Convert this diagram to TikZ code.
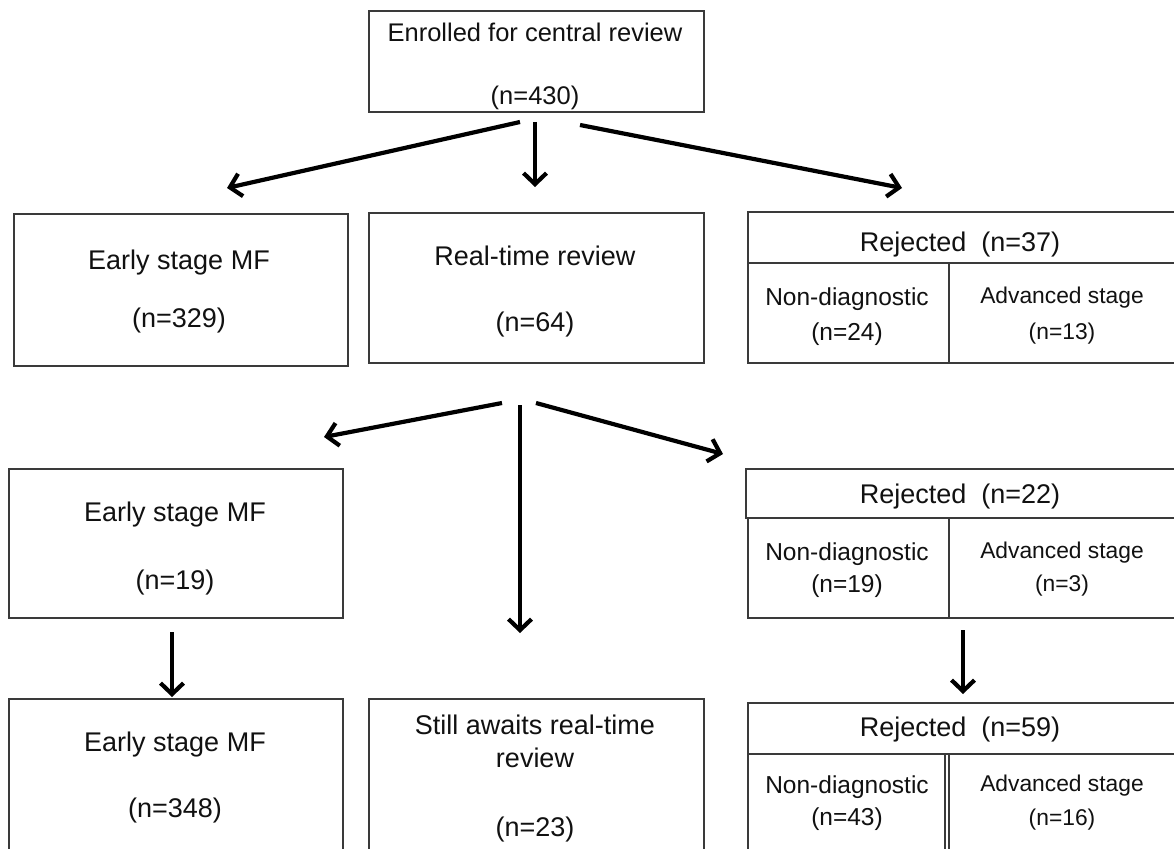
\documentclass[tikz,border=0pt]{standalone}
\usepackage{fontspec}
\setmainfont{Liberation Sans}
\usetikzlibrary{arrows.meta}
\definecolor{boxgray}{HTML}{3A3A3A}
\definecolor{txtblack}{HTML}{111111}
\begin{document}
\begin{tikzpicture}[x=1pt,y=-1pt,
  bx/.style={draw=boxgray,line width=1.6pt,inner sep=0pt,anchor=north west},
  txt/.style={inner sep=0pt,text height=19.3pt,text depth=0pt,anchor=center,text=txtblack,font=\fontsize{27}{31}\selectfont},
  txttop/.style={txt,text height=18.3pt,font=\fontsize{25.5}{30}\selectfont},
  txtsm/.style={txt,text height=17.6pt,font=\fontsize{24.5}{28}\selectfont},
  txtxs/.style={txt,text height=16.3pt,font=\fontsize{22.8}{26}\selectfont},
  arr/.style={line width=4.2pt,black,-{Straight Barb[length=11pt,width=23pt]}}
]
\fill[white] (0,0) rectangle (1174,848);
\useasboundingbox (0,0) rectangle (1174,848);

% top box
\node[bx,minimum width=335pt,minimum height=101pt] (enr) at (368,10) {};
\node[txttop] (enrA) at (535,32) {Enrolled for central review};
\node[txttop] (enrB) at (535,95) {(n=430)};

% row 2
\node[bx,minimum width=334pt,minimum height=152pt] (es1) at (13,213) {};
\node[txt] (es1A) at (179,260) {Early stage MF};
\node[txt] (es1B) at (179,318) {(n=329)};

\node[bx,minimum width=335pt,minimum height=150pt] (rtr) at (368,212) {};
\node[txt] (rtrA) at (535,256) {Real-time review};
\node[txt] (rtrB) at (535,322) {(n=64)};

\node[bx,minimum width=429pt,minimum height=51pt] (rj1h) at (747,211) {};
\node[bx,minimum width=201pt,minimum height=100pt] (rj1a) at (747,262) {};
\node[bx,minimum width=228pt,minimum height=100pt] (rj1b) at (948,262) {};
\node[txt] (rj1T) at (960,242) {Rejected\ \ (n=37)};
\node[txtsm] (rj1aA) at (847,297) {Non-diagnostic};
\node[txtsm] (rj1aB) at (847,332) {(n=24)};
\node[txtxs] (rj1bA) at (1062,295) {Advanced stage};
\node[txtxs] (rj1bB) at (1062,331) {(n=13)};

% row 3
\node[bx,minimum width=334pt,minimum height=149pt] (es2) at (8,468) {};
\node[txt] (es2A) at (175,512) {Early stage MF};
\node[txt] (es2B) at (175,580) {(n=19)};

\node[bx,minimum width=431pt,minimum height=49pt] (rj2h) at (745,468) {};
\node[bx,minimum width=201pt,minimum height=100pt] (rj2a) at (747,517) {};
\node[bx,minimum width=228pt,minimum height=100pt] (rj2b) at (948,517) {};
\node[txt] (rj2T) at (960,494) {Rejected\ \ (n=22)};
\node[txtsm] (rj2aA) at (847,552) {Non-diagnostic};
\node[txtsm] (rj2aB) at (847,584) {(n=19)};
\node[txtxs] (rj2bA) at (1062,550) {Advanced stage};
\node[txtxs] (rj2bB) at (1062,583) {(n=3)};

% row 4
\node[bx,minimum width=334pt,minimum height=170pt] (es3) at (8,698) {};
\node[txt] (es3A) at (175,742) {Early stage MF};
\node[txt] (es3B) at (175,808) {(n=348)};

\node[bx,minimum width=335pt,minimum height=170pt] (still) at (368,698) {};
\node[txt] (stA) at (535,725) {Still awaits real-time};
\node[txt] (stB) at (535,758) {review};
\node[txt] (stC) at (535,827) {(n=23)};

\node[bx,minimum width=429pt,minimum height=51pt] (rj3h) at (747,702) {};
\node[bx,minimum width=197pt,minimum height=120pt] (rj3a) at (747,753) {};
\node[bx,minimum width=228pt,minimum height=120pt] (rj3b) at (948,753) {};
\node[txt] (rj3T) at (960,727) {Rejected\ \ (n=59)};
\node[txtsm] (rj3aA) at (847,785) {Non-diagnostic};
\node[txtsm] (rj3aB) at (847,817) {(n=43)};
\node[txtxs] (rj3bA) at (1062,783) {Advanced stage};
\node[txtxs] (rj3bB) at (1062,817) {(n=16)};

% arrow end points
\coordinate (a1s) at (520,122); \coordinate (a1e) at (227,188);
\coordinate (a2s) at (535,122); \coordinate (a2e) at (535,187);
\coordinate (a3s) at (580,125); \coordinate (a3e) at (902,188);
\coordinate (a4s) at (502,403); \coordinate (a4e) at (324,437);
\coordinate (a5s) at (520,405); \coordinate (a5e) at (520,633);
\coordinate (a6s) at (536,403); \coordinate (a6e) at (723,454);
\coordinate (a7s) at (172,632); \coordinate (a7e) at (172,697);
\coordinate (a8s) at (963,630); \coordinate (a8e) at (963,694);

\draw[arr] (a1s) -- (a1e);
\draw[arr] (a2s) -- (a2e);
\draw[arr] (a3s) -- (a3e);
\draw[arr] (a4s) -- (a4e);
\draw[arr] (a5s) -- (a5e);
\draw[arr] (a6s) -- (a6e);
\draw[arr] (a7s) -- (a7e);
\draw[arr] (a8s) -- (a8e);
\end{tikzpicture}
\end{document}
